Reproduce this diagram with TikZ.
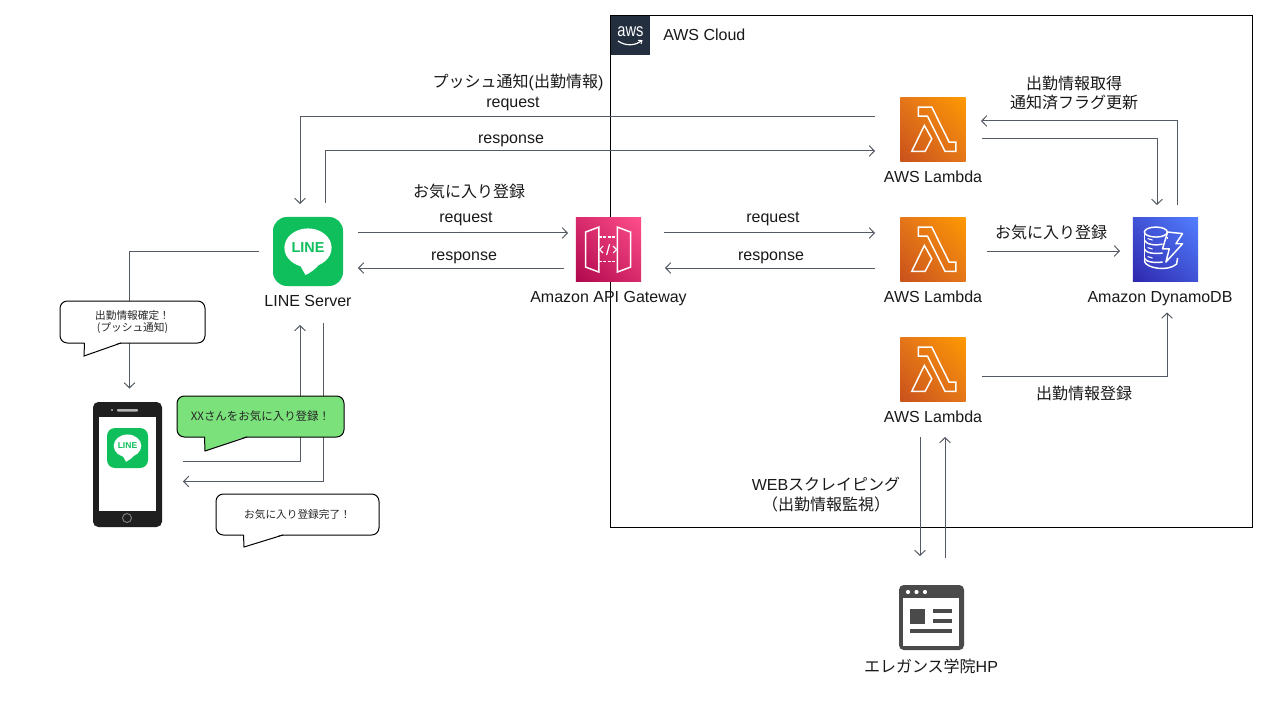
\documentclass[tikz,border=0pt]{standalone}
\usepackage{fontspec}
\setmainfont{Liberation Sans}
\newfontfamily\jpf{Noto Sans CJK JP}
\usetikzlibrary{arrows.meta,calc,shadings}
\definecolor{conn}{HTML}{545B64}
\definecolor{awsnavy}{HTML}{232F3E}
\definecolor{linegreen}{HTML}{0FBF5C}
\definecolor{bubblegreen}{HTML}{7BE27B}
\definecolor{webgray}{HTML}{4A4A4A}
\newcommand{\J}[1]{{\jpf #1}}
\tikzset{
  conn/.style={draw=conn,line width=0.75pt,-{Straight Barb[length=3.8pt,width=8pt,line width=0.75pt]}},
  lbl/.style={inner sep=0pt,font=\fontsize{12}{14.5}\selectfont,align=center,text=black!90},
  jlbl/.style={lbl,font=\fontsize{12}{15}\selectfont\jpf},
  icon/.style={inner sep=0pt,minimum width=49pt,minimum height=48.25pt},
  lambdabox/.style={icon,shade,lower left=lamA,upper right=lamB,upper left=lamM,lower right=lamM},
  apibox/.style={icon,shade,lower left=apiA,upper right=apiB,upper left=apiM,lower right=apiM},
  ddbbox/.style={icon,shade,lower left=ddbA,upper right=ddbB,upper left=ddbM,lower right=ddbM},
  glyph/.style={draw=white,line width=1.1pt,line join=miter},
  bubble/.style={draw=black,line width=0.75pt,fill=white,rounded corners=5.5pt,inner sep=0pt,align=center,font=\fontsize{8}{9.4}\selectfont\jpf,text=black!85},
  tailedge/.style={draw=black,line width=0.75pt},
}
\definecolor{lamA}{HTML}{C8511B}\definecolor{lamB}{HTML}{FF9900}\definecolor{lamM}{HTML}{E4751A}
\definecolor{apiA}{HTML}{B0084D}\definecolor{apiB}{HTML}{FF4F8B}\definecolor{apiM}{HTML}{D72B6C}
\definecolor{ddbA}{HTML}{2E27AD}\definecolor{ddbB}{HTML}{527FFF}\definecolor{ddbM}{HTML}{4053D6}
% lambda glyph
\newcommand{\lamglyph}[1]{%
  \begin{scope}[shift={(#1.north west)}]
    \draw[glyph] (18.3,10)--(31.7,10)--(49,45)--(55.7,45)--(55.7,54.3)--(45,54.3)--(27.3,19)--(18.3,19)--cycle;
    \draw[glyph] (11.7,54.3)--(24.3,28.3)--(31.7,41.7)--(25,54.3)--cycle;
  \end{scope}}
% line glyph: #1 node, #2 scale relative to a 70 px icon, #3 font size
\newcommand{\lineglyph}[3]{%
  \begin{scope}[shift={(#1.center)},scale=#2]
    \fill[white] (0,-3.7) ellipse [x radius=23.6,y radius=19.4];
    \fill[white] (-9,12) -- (-2.5,23.5) .. controls (3,21) and (8,17) .. (12,12) -- cycle;
    \node[inner sep=0pt,text=linegreen,font=\fontsize{#3}{#3}\selectfont\bfseries] at (0,-3.5) {LINE};
  \end{scope}}
\begin{document}
\begin{tikzpicture}[x=0.75pt,y=-0.75pt]
\useasboundingbox (0,0) rectangle (1280,720);
\fill[white] (0,0) rectangle (1280,720);
% cloud
\node[draw=black,line width=0.75pt,inner sep=0pt,minimum width=481pt,minimum height=383.25pt] (cloud) at (931.5,271.5) {};
\node[fill=awsnavy,inner sep=0pt,minimum size=29.25pt] (awslogo) at (630.5,35.5) {};
\node[inner sep=0pt,text=white,font=\fontsize{11}{13}\selectfont,yscale=1.25,transform shape] (awstext) at (630.5,32) {aws};
\draw[white,line width=0.9pt] (618,41) .. controls (625,46) and (635,46) .. (641,41);
\draw[white,line width=0.7pt] (638,40.3) -- (642,40.5) -- (641,44);
\node[lbl,anchor=west] (cloudlabel) at (663,35) {AWS Cloud};
% icons
\node[icon,fill=linegreen,rounded corners=10.5pt,minimum width=52.5pt,minimum height=51.75pt] (line) at (308,251.5) {};
\lineglyph{line}{1}{10.8}
\node[lbl] (linelabel) at (308,301) {LINE Server};
\node[apibox] (api) at (608.5,249.5) {};
\begin{scope}[shift={(api.north west)}]
  \draw[glyph] (10,15)--(23.3,10)--(23.3,55)--(10,50)--cycle;
  \draw[glyph] (41.7,10)--(55,15)--(55,50)--(41.7,55)--cycle;
  \draw[glyph,dash pattern=on 2pt off 1.4pt] (23.3,20)--(41.7,20);
  \draw[glyph,dash pattern=on 2pt off 1.4pt] (23.3,44.3)--(41.7,44.3);
  \draw[glyph,line width=0.9pt] (27.5,29)--(24,32.5)--(27.5,36);
  \draw[glyph,line width=0.9pt] (37.5,29)--(41,32.5)--(37.5,36);
  \draw[glyph,line width=0.9pt] (34,27)--(31,38);
\end{scope}
\node[lbl] (apilabel) at (608.5,299) {Amazon API Gateway};
\node[lambdabox] (lam1) at (933,129.5) {};
\lamglyph{lam1}
\node[lbl] (lam1label) at (933,177) {AWS Lambda};
\node[lambdabox] (lam2) at (933,249.5) {};
\lamglyph{lam2}
\node[lbl] (lam2label) at (933,297) {AWS Lambda};
\node[lambdabox] (lam3) at (933,369.5) {};
\lamglyph{lam3}
\node[lbl] (lam3label) at (933,417) {AWS Lambda};
\node[ddbbox] (ddb) at (1165.5,249.5) {};
\begin{scope}[shift={(ddb.north west)}]
  \draw[glyph] (23.3,15) ellipse [x radius=11.5,y radius=5];
  \draw[glyph] (11.8,15)--(11.8,44);
  \draw[glyph] (34.8,20)--(34.8,22);
  \draw[glyph] (11.8,23) .. controls (13,27) and (22,29) .. (30,27);
  \draw[glyph] (11.8,32) .. controls (13,36) and (22,37) .. (30,36);
  \draw[glyph] (11.8,41) .. controls (13,45) and (22,46) .. (30,45);
  \draw[glyph] (11.8,44) .. controls (13,51) and (35,55) .. (44,47) -- (45,41);
  \draw[glyph,line width=0.8pt] (15,21.5)--(20,23);
  \draw[glyph,line width=0.8pt] (15,30.5)--(20,32);
  \draw[glyph,line width=0.8pt] (15,39.5)--(20,41);
  \draw[glyph,line join=round] (35,15)--(50,16.5)--(43.3,26.7)--(50,26.7)--(33.3,45)--(36.7,31.7)--(30,31.7)--cycle;
\end{scope}
\node[lbl] (ddblabel) at (1160,299) {Amazon DynamoDB};
% web icon
\node[inner sep=0pt,fill=webgray,rounded corners=3.5pt,minimum width=48.75pt,minimum height=48.75pt] (web) at (931.5,617.5) {};
\fill[white] (903,598) rectangle (959,646);
\foreach \dx in {908,916.5,925} \fill[white] (\dx,592) circle [radius=2.1];
\fill[webgray] (910,609) rectangle (925,624);
\fill[webgray] (933,609) rectangle (952,613);
\fill[webgray] (933,619) rectangle (952,623);
\fill[webgray] (910,629) rectangle (952,633);
\node[lbl,font=\fontsize{12}{14}\selectfont] (weblabel) at (931,666) {\J{エレガンス学院}HP};
% phone
\node[inner sep=0pt,fill=black!88,rounded corners=4pt,minimum width=51.75pt,minimum height=93.75pt] (phone) at (127.5,464.5) {};
\fill[white] (99,417) rectangle (156,511);
\fill[gray!60] (112,410) circle [radius=1.2];
\fill[gray!60,rounded corners=0.7pt] (117,409) rectangle (138,411.5);
\draw[gray,line width=0.7pt] (127,518) circle [radius=4.5];
\node[inner sep=0pt,fill=linegreen,rounded corners=6pt,minimum width=30.75pt,minimum height=30pt] (phoneline) at (127.5,448) {};
\lineglyph{phoneline}{0.585}{6.4}
% connectors
\draw[conn] ([shift={(-58,-12.5)}]lam1.center) -| ([shift={(-8,-47.5)}]line.center);
\draw[conn] ([shift={(17,-48.5)}]line.center) |- ([shift={(-58,21.5)}]lam1.center);
\draw[conn] ([shift={(50,-18.5)}]line.center) -- ([shift={(-40.5,-16.5)}]api.center);
\draw[conn] ([shift={(-44.5,18.5)}]api.center) -- ([shift={(50,16.5)}]line.center);
\draw[conn] ([shift={(55.5,-16.5)}]api.center) -- ([shift={(-58,-16.5)}]lam2.center);
\draw[conn] ([shift={(-58,18.5)}]lam2.center) -- ([shift={(56.5,18.5)}]api.center);
\draw[conn] ([shift={(11.5,-44.5)}]ddb.center) |- ([shift={(48,-8.5)}]lam1.center);
\draw[conn] ([shift={(49,9.5)}]lam1.center) -| ([shift={(-8.5,-44.5)}]ddb.center);
\draw[conn] ([shift={(54,1.5)}]lam2.center) -- ([shift={(-45.5,1.5)}]ddb.center);
\draw[conn] ([shift={(49,6.5)}]lam3.center) -| ([shift={(1.5,63)}]ddb.center);
\draw[conn] ([shift={(-13,67.5)}]lam3.center) -- ([shift={(-11.5,-61.5)}]web.center);
\draw[conn] ([shift={(13.5,-59.5)}]web.center) -- ([shift={(12,67.5)}]lam3.center);
\draw[conn] ([shift={(-49,-0.5)}]line.center) -| ([shift={(2,-76)}]phone.center);
\draw[conn] ([shift={(55.5,-3)}]phone.center) -| ([shift={(-8,73.5)}]line.center);
\draw[conn] ([shift={(15,71.5)}]line.center) |- ([shift={(55.5,17)}]phone.center);
% labels
\node[lbl] (l1) at (518,82) {\J{プッシュ通知}(\J{出勤情報})};
\node[lbl] (l2) at (513,104) {request};
\node[lbl] (l3) at (511,141) {response};
\node[jlbl] (l4) at (469,191) {お気に入り登録};
\node[lbl] (l5) at (466,219) {request};
\node[lbl] (l6) at (464,258) {response};
\node[lbl] (l7) at (773,219) {request};
\node[lbl] (l8) at (771,258) {response};
\node[jlbl] (l9) at (1051,232) {お気に入り登録};
\node[jlbl] (l10) at (1074,83) {出勤情報取得};
\node[jlbl] (l11) at (1074,102) {通知済フラグ更新};
\node[jlbl] (l12) at (1084,393) {出勤情報登録};
\node[lbl] (l13) at (826,484) {WEB\J{スクレイピング}};
\node[jlbl] (l14) at (826,504) {（出勤情報監視）};
% speech bubbles
\node[bubble,minimum width=108.75pt,minimum height=31.5pt] (b1) at (132.5,322) {出勤情報確定！\\(プッシュ通知)};
\fill[white] (84.5,342) -- (84,356) -- (121,342) -- cycle;
\draw[tailedge] (84.5,343) -- (84,356) -- (121,343);
\node[bubble,fill=bubblegreen,minimum width=125.25pt,minimum height=30.75pt,font=\fontsize{8.6}{10}\selectfont\jpf] (b2) at (260.5,416.5) {XXさんをお気に入り登録！};
\fill[bubblegreen] (204.5,436) -- (205,451) -- (247,436) -- cycle;
\draw[tailedge] (204.5,437) -- (205,451) -- (247,437);
\node[bubble,minimum width=122.25pt,minimum height=30.75pt] (b3) at (297.5,514.5) {お気に入り登録完了！};
\fill[white] (243.5,534) -- (244,547) -- (283,534) -- cycle;
\draw[tailedge] (243.5,535) -- (244,547) -- (283,535);
\end{tikzpicture}
\end{document}
